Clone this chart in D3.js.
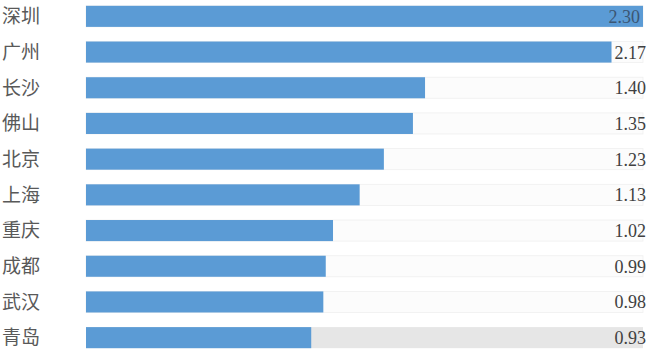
<!DOCTYPE html>
<html>
<head>
<meta charset="utf-8">
<script src="https://cdn.jsdelivr.net/npm/d3@7"></script>
<style>
  html, body { margin: 0; padding: 0; background: #fff; }
  svg { display: block; }
</style>
</head>
<body>
<svg></svg>
<script>
// Data
const cities = ["深圳", "广州", "长沙", "佛山", "北京", "上海", "重庆", "成都", "武汉", "青岛"];
const values = [2.30, 2.17, 1.40, 1.35, 1.23, 1.13, 1.02, 0.99, 0.98, 0.93];
const valueLabels = ["2.30", "2.17", "1.40", "1.35", "1.23", "1.13", "1.02", "0.99", "0.98", "0.93"];

const width = 651;
const height = 354;

const svg = d3.select("svg")
  .attr("width", width)
  .attr("height", height);

// Scales
const xScale = d3.scaleLinear()
  .domain([0, 2.30])
  .range([86, 643]);

const yScale = d3.scaleBand()
  .domain(cities)
  .range([-1.5, 355.5])
  .paddingInner(0.41)
  .paddingOuter(0.205);

const rows = cities.map((c, i) => ({ city: c, value: values[i], label: valueLabels[i], i }));

// Background tracks
svg.append("g")
  .selectAll("rect")
  .data(rows)
  .join("rect")
    .attr("x", xScale(0))
    .attr("y", d => yScale(d.city))
    .attr("width", xScale(2.30) - xScale(0))
    .attr("height", yScale.bandwidth())
    .attr("fill", d => d.i === rows.length - 1 ? "#e6e6e6" : "#fcfcfc")
    .attr("stroke", d => d.i === rows.length - 1 ? "none" : "#efefef")
    .attr("stroke-width", 0.8);

// Bars
svg.append("g")
  .selectAll("rect")
  .data(rows)
  .join("rect")
    .attr("x", xScale(0))
    .attr("y", d => yScale(d.city))
    .attr("width", d => xScale(d.value) - xScale(0))
    .attr("height", yScale.bandwidth())
    .attr("fill", "#5b9bd5");

// Category labels
svg.append("g")
  .selectAll("text")
  .data(rows)
  .join("text")
    .attr("x", 2)
    .attr("y", d => yScale(d.city) + yScale.bandwidth() / 2)
    .attr("dy", "0.36em")
    .attr("font-family", "'Noto Sans CJK SC', sans-serif")
    .attr("font-size", 19)
    .attr("fill", "#595959")
    .text(d => d.city);

// Value labels
svg.append("g")
  .selectAll("text")
  .data(rows)
  .join("text")
    .attr("x", d => d.i === 0 ? 640 : 646)
    .attr("y", d => yScale(d.city) + yScale.bandwidth() / 2)
    .attr("dy", "0.36em")
    .attr("text-anchor", "end")
    .attr("font-family", "'Liberation Serif', serif")
    .attr("font-size", 18)
    .attr("fill", d => d.i === 0 ? "#3b5673" : "#404040")
    .text(d => d.label);
</script>
</body>
</html>
